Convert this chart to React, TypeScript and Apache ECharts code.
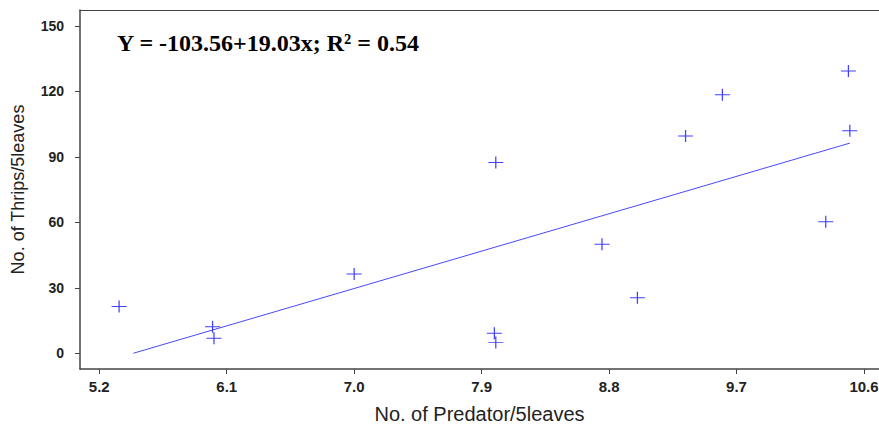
import React, { useEffect, useRef } from "react";
import * as echarts from "echarts";

const predatorX: number[] = [5.34, 6.0, 6.01, 7.0, 7.99, 8.0, 8.0, 8.75, 9.0, 10.33, 9.34, 9.6, 10.49, 10.5];
const thripsY: number[] = [21.4, 12.2, 6.9, 36.3, 9.2, 5.0, 87.4, 50.0, 25.5, 60.3, 99.6, 118.5, 129.4, 102.0];
const fitX: number[] = [5.44, 10.5];
const fitY: number[] = [0.0, 96.3];
const xTicks: number[] = [5.2, 6.1, 7.0, 7.9, 8.8, 9.7, 10.6];
const yTicks: number[] = [0, 30, 60, 90, 120, 150];
const equationText = "Y = -103.56+19.03x; R² = 0.54";

export default function App() {
  const ref = useRef<HTMLDivElement>(null);
  useEffect(() => {
    document.body.style.margin = "0";
    if (!ref.current) return;
    const chart = echarts.init(ref.current, undefined, { renderer: "svg" });
    const axisColor = "#444";
    const labelStyle = {
      color: "#222",
      fontFamily: "Liberation Sans, Arial, sans-serif",
      fontWeight: "bold" as const,
    };
    chart.setOption({
      animation: false,
      backgroundColor: "#fff",
      grid: { left: 80, top: 10, right: 0, bottom: 56, containLabel: false, outerBoundsMode: "none" },
      xAxis: [
        {
          type: "value",
          min: 5.064,
          max: 10.706,
          name: "No. of Predator/5leaves",
          nameLocation: "middle",
          nameGap: 35,
          nameTextStyle: { color: "#222", fontFamily: "Liberation Sans, Arial, sans-serif", fontSize: 20 },
          splitLine: { show: false },
          axisLine: { show: true, onZero: false, lineStyle: { color: axisColor, width: 1.5 } },
          axisTick: { show: true, length: 5, customValues: xTicks, lineStyle: { color: axisColor } },
          axisLabel: { ...labelStyle, fontSize: 15, margin: 10, customValues: xTicks, formatter: (v: number) => v.toFixed(1) },
        },
        {
          type: "value",
          position: "top",
          min: 5.064,
          max: 10.706,
          splitLine: { show: false },
          axisLine: { show: true, onZero: false, lineStyle: { color: axisColor, width: 1 } },
          axisTick: { show: false },
          axisLabel: { show: false },
        },
      ],
      yAxis: {
        type: "value",
        min: -7.2,
        max: 157.3,
        name: "No. of Thrips/5leaves",
        nameLocation: "middle",
        nameGap: 53,
        nameTextStyle: { color: "#222", fontFamily: "Liberation Sans, Arial, sans-serif", fontSize: 18 },
        splitLine: { show: false },
        axisLine: { show: true, onZero: false, lineStyle: { color: axisColor, width: 1.5 } },
        axisTick: { show: true, length: 5, customValues: yTicks, lineStyle: { color: axisColor } },
        axisLabel: { ...labelStyle, fontSize: 14, margin: 16, customValues: yTicks },
      },
      graphic: [
        {
          type: "text",
          left: 117,
          top: 31,
          style: {
            text: equationText,
            fill: "#000",
            fontFamily: "Liberation Serif, Times New Roman, serif",
            fontWeight: "bold",
            fontSize: 24,
          },
        },
      ],
      series: [
        {
          type: "line",
          data: fitX.map((x, i) => [x, fitY[i]]),
          showSymbol: false,
          symbol: "none",
          lineStyle: { color: "#4848ff", width: 1 },
          z: 1,
        },
        {
          type: "scatter",
          data: predatorX.map((x, i) => [x, thripsY[i]]),
          symbol: "path://M0,6L15,6M7.5,0L7.5,12",
          symbolSize: [15, 12],
          itemStyle: { color: "none", borderColor: "#1010ff", borderWidth: 1.1 },
          z: 2,
        },
      ],
    });
    return () => chart.dispose();
  }, []);
  return <div ref={ref} style={{ width: 879, height: 425 }} />;
}
